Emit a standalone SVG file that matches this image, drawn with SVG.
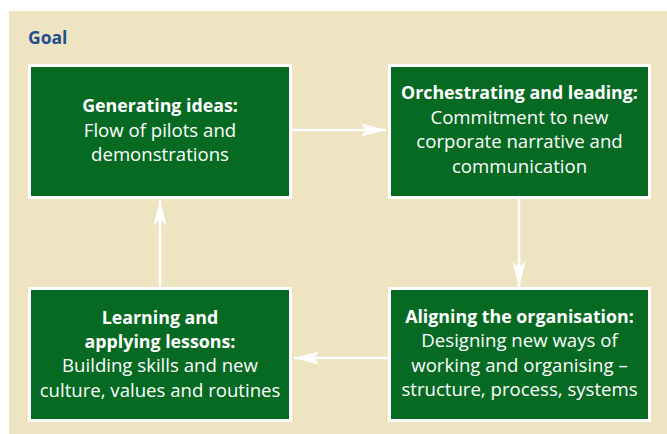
<svg xmlns="http://www.w3.org/2000/svg" width="667" height="434" viewBox="0 0 667 434">
  <style>
    .panel { fill: #efe4c1; }
    .box { fill: #066a22; stroke: #ffffff; stroke-width: 3; }
    .label { font-family: "Open Sans", "Liberation Sans", sans-serif; font-size: 18.6px; fill: #ffffff; text-anchor: middle; }
    .label .b { font-weight: bold; font-size: 17.8px; }
    .title { font-family: "Open Sans", "Liberation Sans", sans-serif; font-size: 17.5px; font-weight: bold; fill: #1d4e8f; }
    .link { fill: none; stroke: #ffffff; stroke-width: 2.5; marker-end: url(#head); }
  </style>
  <defs>
    <marker id="head" markerUnits="userSpaceOnUse" markerWidth="26" markerHeight="16" viewBox="-25 -8 26 16" refX="0" refY="0" orient="auto">
      <path d="M0,0 L-25,-6.5 L-20,0 L-25,6.5 Z" fill="#ffffff"/>
    </marker>
  </defs>

  <rect class="panel" x="9" y="11" width="658" height="423"/>
  <text class="title" x="28" y="44">Goal</text>

  <g id="connectors">
    <path class="link" d="M292,130 H386"/>
    <path class="link" d="M519,199 V287"/>
    <path class="link" d="M388,358 H294"/>
    <path class="link" d="M160,287 V200"/>
  </g>

  <g id="generating-ideas">
    <rect class="box" x="29.5" y="65.5" width="261" height="132"/>
    <text class="label" x="160" y="112"><tspan class="b">Generating ideas:</tspan><tspan x="160" dy="24.5">Flow of pilots and</tspan><tspan x="160" dy="24.5">demonstrations</tspan></text>
  </g>

  <g id="orchestrating">
    <rect class="box" x="389.5" y="65.5" width="260" height="132"/>
    <text class="label" x="519.5" y="99"><tspan class="b">Orchestrating and leading:</tspan><tspan x="519.5" dy="24.5">Commitment to new</tspan><tspan x="519.5" dy="24.5">corporate narrative and</tspan><tspan x="519.5" dy="24.5">communication</tspan></text>
  </g>

  <g id="aligning">
    <rect class="box" x="389.5" y="288.5" width="260" height="132"/>
    <text class="label" x="519.5" y="323"><tspan class="b">Aligning the organisation:</tspan><tspan x="519.5" dy="24.3">Designing new ways of</tspan><tspan x="519.5" dy="24.3">working and organising –</tspan><tspan x="519.5" dy="24.3">structure, process, systems</tspan></text>
  </g>

  <g id="learning">
    <rect class="box" x="29.5" y="288.5" width="261" height="132"/>
    <text class="label" x="160" y="324"><tspan class="b">Learning and</tspan><tspan x="160" dy="24" class="b">applying lessons:</tspan><tspan x="160" dy="24.3">Building skills and new</tspan><tspan x="160" dy="24.3">culture, values and routines</tspan></text>
  </g>
</svg>
